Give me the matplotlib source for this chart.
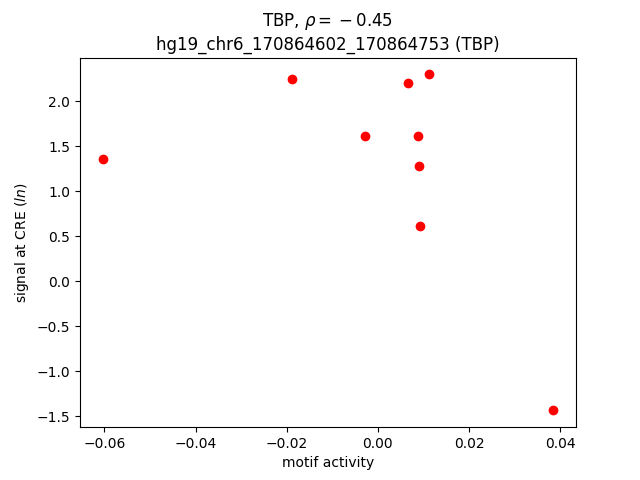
import matplotlib
matplotlib.use("Agg")
import matplotlib.pyplot as plt

# motif activity vs signal at CRE
motif_activity = [-0.0604, -0.0189, -0.0029, 0.0067, 0.0111, 0.0087, 0.0089, 0.0093, 0.0385]
signal = [1.356, 2.244, 1.611, 2.200, 2.300, 1.611, 1.278, 0.611, -1.433]

fig, ax = plt.subplots(figsize=(6.4, 4.8), dpi=100)
ax.scatter(motif_activity, signal, color="red")
ax.set_xlabel("motif activity")
ax.set_ylabel("signal at CRE ($ln$)")
ax.set_title("TBP, $\\rho = {}-0.45$\nhg19_chr6_170864602_170864753 (TBP)")
fig.savefig("out.png")
